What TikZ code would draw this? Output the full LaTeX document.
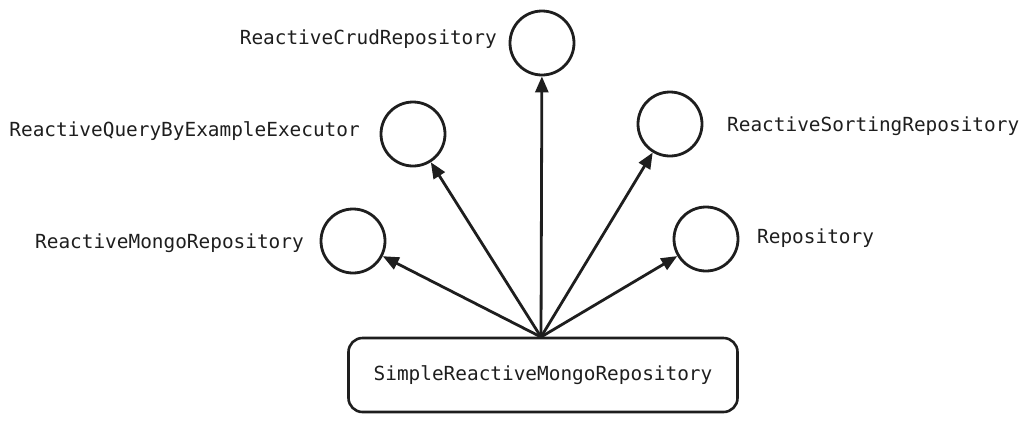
\documentclass[tikz,border=0pt]{standalone}
\usepackage{fontspec}
\setmonofont{DejaVu Sans Mono}
\usetikzlibrary{arrows.meta, positioning}
\definecolor{ink}{HTML}{1E1E1E}

\begin{document}
\begin{tikzpicture}[
  x=1pt, y=-1pt,
  every node/.style = {font=\ttfamily\fontsize{19.4}{23}\selectfont, text=ink},
  iface/.style = {circle, draw=ink, line width=2.8pt, minimum size=64pt, inner sep=0pt},
  lbl/.style   = {inner sep=0pt},
  implbox/.style = {rectangle, rounded corners=14pt, draw=ink, line width=2.6pt,
                    minimum width=389pt, minimum height=74pt},
  arr/.style = {-{Triangle[length=16pt, width=13pt]}, line width=2.8pt, ink},
]
\useasboundingbox (0,0) rectangle (1028,424);

%% -- interfaces --------------------------------------------------------
\node[iface] (crud)  at (542, 43)  {};
\node[iface] (qbe)   at (413, 134) {};
\node[iface] (sort)  at (670, 124) {};
\node[iface] (mongo) at (353, 241) {};
\node[iface] (repo)  at (706, 239) {};

%% -- labels ------------------------------------------------------------
\node[lbl, anchor=east] (crudlbl)  at (497, 39)  {ReactiveCrudRepository};
\node[lbl, anchor=east] (qbelbl)   at (360, 131) {ReactiveQueryByExampleExecutor};
\node[lbl, anchor=west] (sortlbl)  at (727, 126) {ReactiveSortingRepository};
\node[lbl, anchor=east] (mongolbl) at (304, 243) {ReactiveMongoRepository};
\node[lbl, anchor=west] (repolbl)  at (757, 238) {Repository};

%% -- implementation ----------------------------------------------------
\node[implbox] (impl) at (543, 375) {SimpleReactiveMongoRepository};
\coordinate (hub) at (541, 337);

%% -- arrows ------------------------------------------------------------
\draw[arr] (hub) -- (crud);
\draw[arr] (hub) -- (qbe);
\draw[arr] (hub) -- (sort);
\draw[arr] (hub) -- (mongo);
\draw[arr] (hub) -- (repo);

\end{tikzpicture}
\end{document}
